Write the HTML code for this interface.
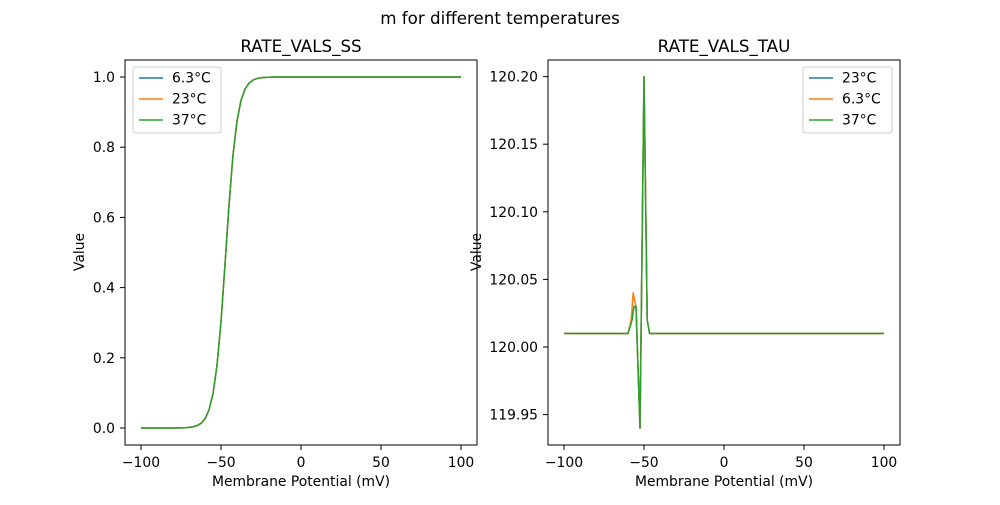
<!DOCTYPE html><html><head><style>body{margin:0;background:#fff}svg{font-family:"DejaVu Sans","Liberation Sans",sans-serif}</style></head><body>
<svg id="s" width="1000" height="500" xmlns="http://www.w3.org/2000/svg" font-size="13.9">
<rect width="1000" height="500" fill="#fff"/>
<text x="500" y="24" text-anchor="middle" font-size="16.7">m for different temperatures</text>
<text x="301" y="52" text-anchor="middle" font-size="16.7">RATE_VALS_SS</text>
<text x="724" y="52" text-anchor="middle" font-size="16.7">RATE_VALS_TAU</text>
<g id="g1"></g>
<rect x="125" y="60" width="352" height="385" fill="none" stroke="#000" stroke-width="1"/>
<rect x="548" y="60" width="352" height="385" fill="none" stroke="#000" stroke-width="1"/>
<text x="301" y="486" text-anchor="middle">Membrane Potential (mV)</text>
<text x="724" y="486" text-anchor="middle">Membrane Potential (mV)</text>
<text transform="translate(84,252) rotate(-90)" text-anchor="middle">Value</text>
<text transform="translate(481,252) rotate(-90)" text-anchor="middle">Value</text>
<g font-size="13.9">
<rect x="133" y="67" width="88" height="66" fill="#fff" stroke="#ccc" rx="3"/>
<line x1="139" y1="78" x2="163" y2="78" stroke="#1f77b4" stroke-width="1.5"/><text x="172" y="82.5">6.3°C</text>
<line x1="139" y1="99" x2="163" y2="99" stroke="#ff7f0e" stroke-width="1.5"/><text x="172" y="103.5">23°C</text>
<line x1="139" y1="120" x2="163" y2="120" stroke="#2ca02c" stroke-width="1.5"/><text x="172" y="124.5">37°C</text>
<rect x="803" y="67" width="89" height="66" fill="#fff" stroke="#ccc" rx="3"/>
<line x1="809" y1="78" x2="833" y2="78" stroke="#1f77b4" stroke-width="1.5"/><text x="842" y="82.5">23°C</text>
<line x1="809" y1="99" x2="833" y2="99" stroke="#ff7f0e" stroke-width="1.5"/><text x="842" y="103.5">6.3°C</text>
<line x1="809" y1="120" x2="833" y2="120" stroke="#2ca02c" stroke-width="1.5"/><text x="842" y="124.5">37°C</text>
</g>
</svg>
<script>
var g=document.getElementById('g1'),ns="http://www.w3.org/2000/svg";
function el(t,a,txt){var e=document.createElementNS(ns,t);for(var k in a)e.setAttribute(k,a[k]);if(txt)e.textContent=txt;g.appendChild(e);return e;}
[-100,-50,0,50,100].forEach(function(v){[301,724].forEach(function(o){var x=o+v*1.6;el('line',{x1:x,y1:445,x2:x,y2:450,stroke:'#000'});el('text',{x:x,y:467,'text-anchor':'middle','font-size':13.9},String(v).replace('-','−'));});});
[0,0.2,0.4,0.6,0.8,1.0].forEach(function(v){var y=428-v*351;el('line',{x1:120,y1:y,x2:125,y2:y,stroke:'#000'});el('text',{x:115,y:y+5,'text-anchor':'end','font-size':13.9},v.toFixed(1));});
[119.95,120.00,120.05,120.10,120.15,120.20].forEach(function(v){var y=347-(v-120)*1352;el('line',{x1:543,y1:y,x2:548,y2:y,stroke:'#000'});el('text',{x:538,y:y+5,'text-anchor':'end','font-size':13.9},v.toFixed(2));});
function pl(pts,c){el('polyline',{points:pts.join(' '),fill:'none',stroke:c,'stroke-width':1.5,'stroke-linejoin':'round'});}
var p=[];for(var v=-100;v<=100;v+=2.5){var s=1/(1+Math.exp(-(v+47)/3.6));p.push((301+v*1.6)+','+(428-s*351));}
pl(p,'#1f77b4');pl(p,'#ff7f0e');pl(p,'#2ca02c');
function tp(d){return d.map(function(a){return (724+a[0]*1.6)+','+(347-(a[1]-120)*1352);});}
var b=[[-100,120.01],[-60,120.01],[-57.5,120.02],[-56.3,120.03],[-55,120.03],[-52.5,119.94],[-50,120.2],[-48,120.02],[-46.5,120.01],[100,120.01]];
var o=[[-100,120.01],[-60,120.01],[-58,120.02],[-56.8,120.04],[-55,120.03],[-52.5,119.94],[-50,120.2],[-48,120.02],[-46.5,120.01],[100,120.01]];
pl(tp(b),'#1f77b4');pl(tp(o),'#ff7f0e');pl(tp(b),'#2ca02c');
</script>
</body></html>
